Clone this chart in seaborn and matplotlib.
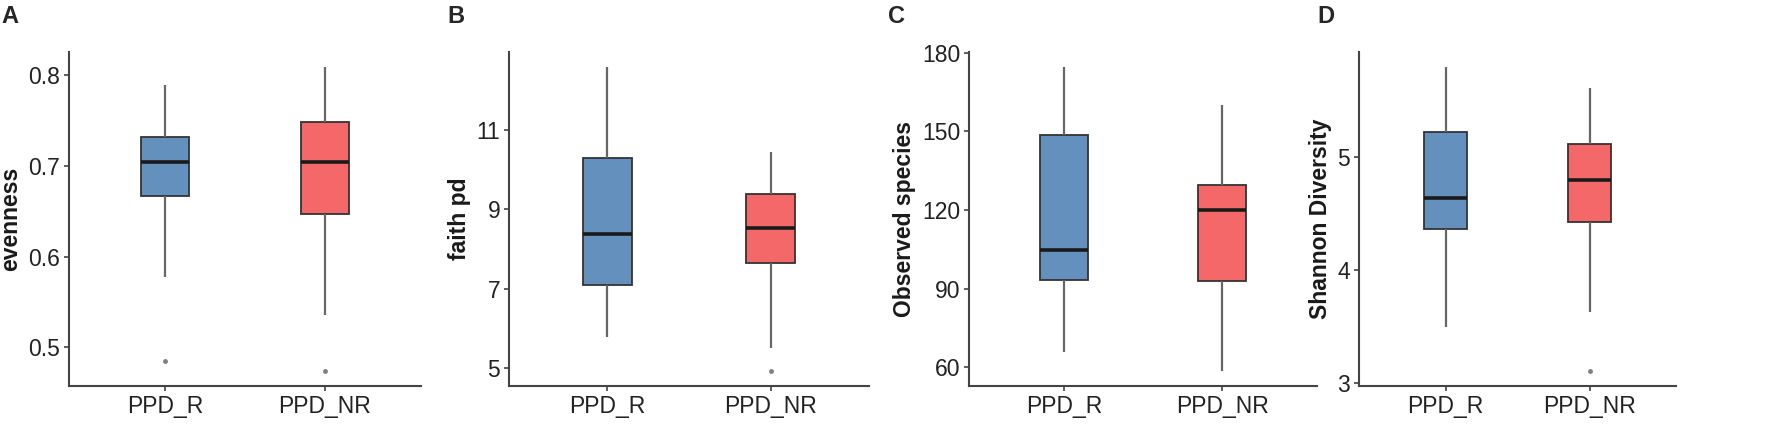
import pandas as pd
import matplotlib.pyplot as plt
import seaborn as sns

groups = ["PPD_R", "PPD_NR"]
colors = ["#6490BE", "#F5686A"]

# five-number summaries: whisker low, q1, median, q3, whisker high
evenness_r = [0.578, 0.667, 0.704, 0.7315, 0.789]
evenness_nr = [0.536, 0.647, 0.704, 0.748, 0.809]
evenness_out = [0.4845, 0.474]

faith_r = [5.80, 7.09, 8.39, 10.30, 12.57]
faith_nr = [5.505, 7.66, 8.52, 9.39, 10.45]
faith_out = [None, 4.94]

observed_r = [65.7, 93.3, 104.8, 148.5, 174.5]
observed_nr = [58.7, 92.9, 119.9, 129.6, 160.0]
observed_out = [None, None]

shannon_r = [3.50, 4.363, 4.632, 5.22, 5.788]
shannon_nr = [3.63, 4.42, 4.79, 5.11, 5.605]
shannon_out = [None, 3.11]

panels = [
    ("A", "evenness", evenness_r, evenness_nr, evenness_out, [0.5, 0.6, 0.7, 0.8]),
    ("B", "faith pd", faith_r, faith_nr, faith_out, [5, 7, 9, 11]),
    ("C", "Observed species", observed_r, observed_nr, observed_out, [60, 90, 120, 150, 180]),
    ("D", "Shannon Diversity", shannon_r, shannon_nr, shannon_out, [3, 4, 5]),
]


def box_sample(stats, outlier):
    # 9 points so that numpy's quartiles land exactly on the summary values
    lo, q1, med, q3, hi = stats
    pts = [lo, lo, q1, q1, med, q3, q3, hi, hi]
    if outlier is not None:
        pts[0] = outlier
    return pts


sns.set_style("ticks")
plt.rcParams["font.family"] = ["Liberation Sans", "DejaVu Sans"]

fig = plt.figure(figsize=(17.72, 4.28), dpi=100)

# axes boxes in figure fractions
axes_pos = [
    (0.0389, 0.1986),
    (0.2874, 0.2030),
    (0.5470, 0.1961),
    (0.7671, 0.1787),
]
letter_x = [0.001, 0.2523, 0.5011, 0.7432]

for (letter, label, r_stats, nr_stats, outs, yticks), (left, width), lx in zip(panels, axes_pos, letter_x):
    ax = fig.add_axes([left, 0.0981, width, 0.7804])

    rows = []
    for g, stats, o in zip(groups, [r_stats, nr_stats], outs):
        for v in box_sample(stats, o):
            rows.append({"group": g, "value": v})
    df = pd.DataFrame(rows)

    sns.boxplot(
        data=df,
        x="group",
        y="value",
        hue="group",
        order=groups,
        hue_order=groups,
        palette=colors,
        saturation=1,
        width=0.3,
        linewidth=1.3,
        linecolor="#333333",
        fliersize=2.5,
        whiskerprops={"color": "#666666", "linewidth": 1.6},
        capprops={"linewidth": 0},
        medianprops={"color": "#1a1a1a", "linewidth": 2.6},
        flierprops={"marker": "o", "markerfacecolor": "#808080", "markeredgecolor": "#808080"},
        legend=False,
        ax=ax,
    )

    # ggplot-style 5% expansion on y, 0.6 on discrete x
    vals = df["value"]
    span = vals.max() - vals.min()
    ax.set_ylim(vals.min() - 0.05 * span, vals.max() + 0.05 * span)
    ax.set_xlim(-0.6, 1.6)
    ax.set_yticks(yticks)
    ax.set_yticklabels([str(t) for t in yticks])

    ax.set_xlabel("")
    ax.set_ylabel(label, fontsize=16.5, fontweight="bold", color="#1a1a1a", labelpad=4)

    sns.despine(ax=ax)
    for side in ["left", "bottom"]:
        ax.spines[side].set_color("#444444")
        ax.spines[side].set_linewidth(1.5)
    ax.tick_params(axis="both", length=3.5, width=1.2, color="#444444",
                   labelsize=16.5, labelcolor="#222222", pad=3)

    fig.text(lx, 0.988, letter, fontsize=17, fontweight="bold", va="top", ha="left")

plt.savefig("out.png", dpi=100)
